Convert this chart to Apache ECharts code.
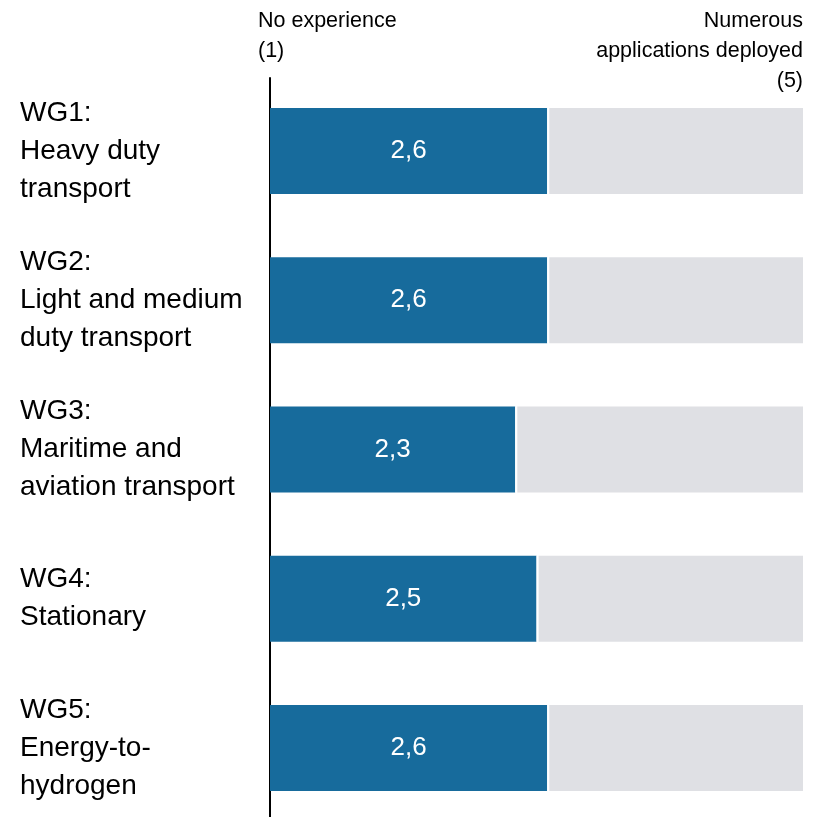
<!DOCTYPE html>
<html>
<head>
<meta charset="utf-8">
<script src="https://cdn.jsdelivr.net/npm/echarts@6/dist/echarts.min.js"></script>
<style>
  html, body { margin: 0; padding: 0; background: #fff; }
  #chart { width: 818px; height: 817px; }
</style>
</head>
<body>
<div id="chart"></div>
<script>
var FONT = '"Liberation Sans", Arial, sans-serif';

// working groups, top to bottom
var groups = [
  'WG1:\nHeavy duty\ntransport',
  'WG2:\nLight and medium\nduty transport',
  'WG3:\nMaritime and\naviation transport',
  'WG4:\nStationary',
  'WG5:\nEnergy-to-\nhydrogen'
];
var scores = [2.6, 2.6, 2.3, 2.5, 2.6];
var scaleMax = 5;
var gap = 0.02; // white gap between score and remainder

var rest = scores.map(function (v) { return +(scaleMax - v - gap).toFixed(3); });
var gaps = scores.map(function () { return gap; });

var myChart = echarts.init(document.getElementById('chart'));

var option = {
  animation: false,
  grid: [
    { left: 270, right: 15, top: 151, height: 597 },
    // only carries the long vertical axis line
    { left: 270, right: 15, top: 78, bottom: 0 }
  ],
  xAxis: [
    { type: 'value', min: 0, max: scaleMax, show: false, gridIndex: 0 },
    { type: 'value', min: 0, max: scaleMax, show: false, gridIndex: 1 }
  ],
  yAxis: [{
    type: 'category',
    gridIndex: 0,
    data: groups,
    inverse: true,
    boundaryGap: false,
    axisLine: { show: false },
    axisTick: { show: false },
    splitLine: { show: false },
    axisLabel: {
      margin: 250,
      align: 'left',
      fontFamily: FONT,
      fontSize: 28,
      lineHeight: 38,
      color: '#000'
    }
  }, {
    type: 'value',
    gridIndex: 1,
    axisLine: { show: true, lineStyle: { color: '#000', width: 2 } },
    axisTick: { show: false },
    axisLabel: { show: false },
    splitLine: { show: false }
  }],
  series: [{
    type: 'bar', stack: 's', barWidth: 86,
    data: scores,
    itemStyle: { color: '#176B9C' },
    label: {
      show: true, position: 'inside',
      color: '#fff', fontFamily: FONT, fontSize: 26,
      formatter: function (p) { return String(p.value).replace('.', ','); }
    }
  }, {
    type: 'bar', stack: 's', barWidth: 86,
    data: gaps,
    itemStyle: { color: '#fff' }
  }, {
    type: 'bar', stack: 's', barWidth: 86,
    data: rest,
    itemStyle: { color: '#DFE0E4' }
  }],
  graphic: [{
    type: 'text', x: 258, y: 6,
    style: { text: 'No experience\n(1)', fontFamily: FONT, fontSize: 21.5, lineHeight: 30, fill: '#000' }
  }, {
    type: 'text', x: 803, y: 6,
    style: { text: 'Numerous\napplications deployed\n(5)', align: 'right', fontFamily: FONT, fontSize: 21.5, lineHeight: 30, fill: '#000' }
  }]
};

myChart.setOption(option);

window.onresize = function () {
  myChart.resize();
};
</script>
</body>
</html>
